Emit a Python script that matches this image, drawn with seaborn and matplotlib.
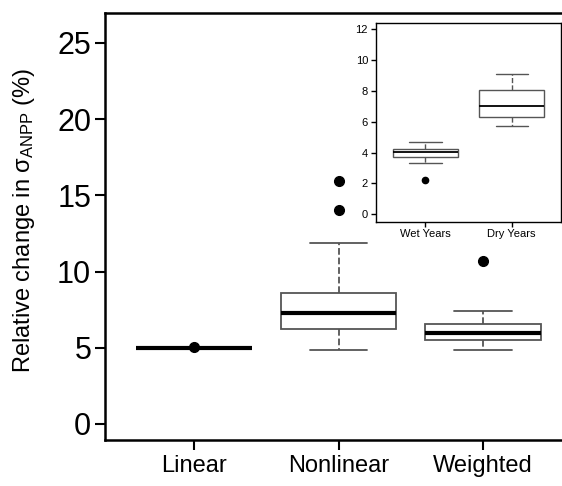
import numpy as np
import pandas as pd
import matplotlib
matplotlib.use("Agg")
import matplotlib.pyplot as plt
import seaborn as sns

# main panel: values (min, quartiles, median, whisker, outliers)
methods = ["Linear", "Nonlinear", "Weighted"]
linear_vals = [5.0, 5.0, 5.0, 5.0, 5.0, 5.0, 5.0, 5.0, 5.02]
nonlinear_vals = [4.86, 6.23, 6.23, 6.23, 7.26, 7.26, 7.26, 8.62, 8.62, 8.62,
                  11.88, 14.07, 15.95]
weighted_vals = [4.88, 5.53, 5.53, 5.99, 5.99, 6.54, 6.54, 7.41, 10.68]

# inset
seasons = ["Wet Years", "Dry Years"]
wet_vals = [2.22, 3.33, 3.72, 3.72, 4.02, 4.02, 4.25, 4.71, 4.71]
dry_vals = [5.73, 6.31, 7.04, 8.04, 9.1]

main_df = pd.DataFrame({
    "method": ["Linear"] * len(linear_vals) + ["Nonlinear"] * len(nonlinear_vals)
              + ["Weighted"] * len(weighted_vals),
    "value": linear_vals + nonlinear_vals + weighted_vals,
})
inset_df = pd.DataFrame({
    "season": ["Wet Years"] * len(wet_vals) + ["Dry Years"] * len(dry_vals),
    "value": wet_vals + dry_vals,
})

sns.set_style("ticks")
plt.rcParams["font.family"] = ["Liberation Sans", "DejaVu Sans"]
plt.rcParams["mathtext.fontset"] = "custom"
plt.rcParams["mathtext.rm"] = "Liberation Sans"
plt.rcParams["mathtext.it"] = "Liberation Sans:italic"
for key in ["text.color", "axes.labelcolor", "xtick.color", "ytick.color"]:
    plt.rcParams[key] = "black"

fig = plt.figure(figsize=(5.62, 4.86), dpi=100)
ax = fig.add_axes([0.187, 0.0947, 0.813, 0.8786])

edge = "#555555"
sns.boxplot(data=main_df, x="method", y="value", order=methods, ax=ax,
            width=0.8, color="white", linecolor=edge, linewidth=1.3,
            medianprops=dict(color="black", linewidth=3),
            whiskerprops=dict(linestyle="--"),
            flierprops=dict(marker="o", markerfacecolor="black",
                            markeredgecolor="black", markersize=7))

ax.set_xlim(-0.616, 2.547)
ax.set_ylim(-1.05, 26.97)
ax.set_yticks([0, 5, 10, 15, 20, 25])
ax.set_xlabel("")
ax.set_ylabel(r"Relative change in σ$_{\mathrm{ANPP}}$ (%)", fontsize=17)
ax.yaxis.set_label_coords(-0.149, 0.515)
ax.tick_params(axis="y", labelsize=22, length=7, width=1.5, pad=3)
ax.tick_params(axis="x", labelsize=17, length=7, width=1.5, pad=4)
for s in ["left", "bottom", "top"]:
    ax.spines[s].set_linewidth(1.8)
    ax.spines[s].set_color("black")
ax.spines["right"].set_visible(False)

ins = fig.add_axes([0.6685, 0.5438, 0.3297, 0.4095])
sns.boxplot(data=inset_df, x="season", y="value", order=seasons, ax=ins,
            width=0.75, color="white", linecolor=edge, linewidth=1.0,
            medianprops=dict(color="black", linewidth=1.3),
            whiskerprops=dict(linestyle="--"),
            flierprops=dict(marker="o", markerfacecolor="black",
                            markeredgecolor="black", markersize=4.5))
ins.set_xlim(-0.574, 1.57)
ins.set_ylim(-0.48, 12.43)
ins.set_yticks([0, 2, 4, 6, 8, 10, 12])
ins.set_xlabel("")
ins.set_ylabel("")
ins.tick_params(labelsize=8, length=3.5, width=1.0, pad=2)
for s in ins.spines.values():
    s.set_linewidth(1.0)
    s.set_color("black")

fig.savefig("out.png", dpi=100)
